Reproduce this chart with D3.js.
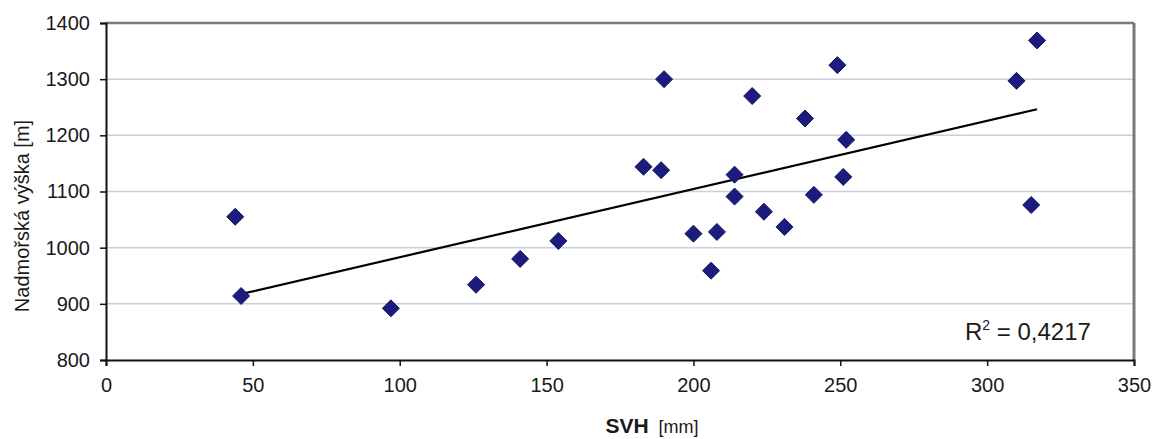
<!DOCTYPE html>
<html>
<head>
<meta charset="utf-8">
<script src="https://cdn.jsdelivr.net/npm/d3@7"></script>
<style>
  body { margin: 0; background: #fff; }
  text { font-family: "Liberation Sans", Arial, sans-serif; fill: #1a1a1a; }
</style>
</head>
<body>
<div id="chart"></div>
<script>
// SVH [mm] vs. altitude [m]
var svh = [44, 46, 97, 126, 141, 154, 183, 189, 190, 200, 206, 208, 214, 214, 220, 224, 231, 238, 241, 249, 252, 251, 310, 317, 315];
var altitude = [1055, 914, 892, 934, 980, 1012, 1144, 1138, 1300, 1025, 959, 1028, 1130, 1091, 1270, 1064, 1037, 1230, 1094, 1325, 1192, 1126, 1297, 1369, 1076];
var xTicks = [0, 50, 100, 150, 200, 250, 300, 350];
var yTicks = [800, 900, 1000, 1100, 1200, 1300, 1400];
var r2Label = "0,4217";

var width = 1155, height = 439;
var plotLeft = 106, plotRight = 1134, plotTop = 23, plotBottom = 360;

var svg = d3.select("#chart").append("svg")
    .attr("width", width)
    .attr("height", height);

var x = d3.scaleLinear().domain([0, 350]).range([plotLeft, plotRight]);
var y = d3.scaleLinear().domain([800, 1400]).range([plotBottom, plotTop]);

// horizontal grid
svg.append("g").selectAll("line")
    .data(yTicks.slice(1, -1))
    .enter().append("line")
    .attr("x1", plotLeft).attr("x2", plotRight)
    .attr("y1", function(d) { return y(d); })
    .attr("y2", function(d) { return y(d); })
    .attr("stroke", "#c3d3de")
    .attr("stroke-width", 1.5);

// frame: top and right grey, left and bottom black
svg.append("line").attr("x1", plotLeft).attr("x2", plotRight).attr("y1", plotTop).attr("y2", plotTop)
    .attr("stroke", "#7a7a7a").attr("stroke-width", 2.5);
svg.append("line").attr("x1", plotRight).attr("x2", plotRight).attr("y1", plotTop).attr("y2", plotBottom)
    .attr("stroke", "#7a7a7a").attr("stroke-width", 3);

var xAxis = svg.append("g")
    .attr("transform", "translate(0," + plotBottom + ")")
    .call(d3.axisBottom(x).tickValues(xTicks).tickSize(6).tickPadding(12).tickFormat(d3.format("d")));
var yAxis = svg.append("g")
    .attr("transform", "translate(" + plotLeft + ",0)")
    .call(d3.axisLeft(y).tickValues(yTicks).tickSize(6).tickPadding(10).tickFormat(d3.format("d")));

[xAxis, yAxis].forEach(function(g) {
  g.select(".domain").attr("stroke", "#111").attr("stroke-width", 2);
  g.selectAll(".tick line").attr("stroke", "#111").attr("stroke-width", 1.5);
  g.selectAll(".tick text")
      .style("font-family", "'Liberation Sans', Arial, sans-serif")
      .style("font-size", "20px")
      .attr("fill", "#1a1a1a");
});

// linear trend
var n = svh.length;
var mx = d3.mean(svh), my = d3.mean(altitude);
var sxy = 0, sxx = 0;
for (var i = 0; i < n; i++) {
  sxy += (svh[i] - mx) * (altitude[i] - my);
  sxx += (svh[i] - mx) * (svh[i] - mx);
}
var slope = sxy / sxx, intercept = my - slope * mx;
var xr = d3.extent(svh);
svg.append("line")
    .attr("x1", x(xr[0])).attr("y1", y(intercept + slope * xr[0]))
    .attr("x2", x(xr[1])).attr("y2", y(intercept + slope * xr[1]))
    .attr("stroke", "#000").attr("stroke-width", 2.2);

// diamond markers
var pts = svh.map(function(d, i) { return [d, altitude[i]]; });
svg.append("g").selectAll("path")
    .data(pts)
    .enter().append("path")
    .attr("transform", function(d) { return "translate(" + x(d[0]) + "," + y(d[1]) + ")"; })
    .attr("d", "M0,-8.5L8.5,0L0,8.5L-8.5,0Z")
    .attr("fill", "#1c1c7e")
    .attr("stroke", "#14145a")
    .attr("stroke-width", 1);

// R^2 label
var r2 = svg.append("text")
    .attr("x", 965).attr("y", 340)
    .style("font-size", "24px");
r2.append("tspan").text("R");
r2.append("tspan").attr("dy", -10).style("font-size", "14px").text("2");
r2.append("tspan").attr("dy", 10).text(" = " + r2Label);

// axis titles
var xt = svg.append("text")
    .attr("x", 652).attr("y", 433)
    .attr("text-anchor", "middle");
xt.append("tspan").style("font-size", "21px").style("font-weight", "bold").text("SVH");
xt.append("tspan").style("font-size", "18px").attr("dx", 10).text("[mm]");

svg.append("text")
    .attr("transform", "translate(29,216) rotate(-90)")
    .attr("text-anchor", "middle")
    .style("font-size", "20px")
    .text("Nadmořská výška [m]");
</script>
</body>
</html>
